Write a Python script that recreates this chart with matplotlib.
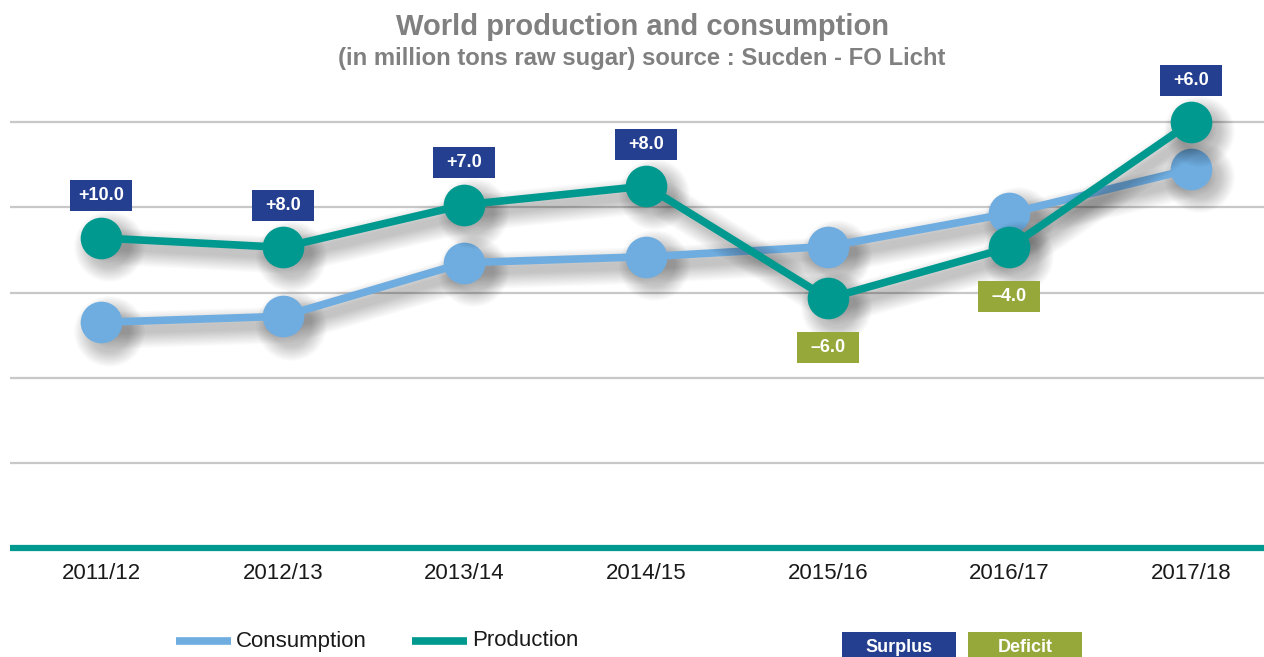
import numpy as np
import matplotlib
matplotlib.use("Agg")
import matplotlib.pyplot as plt
import matplotlib.transforms as mtransforms
from matplotlib.patches import Rectangle
from matplotlib.lines import Line2D

# ------------------------------------------------------------------ #
# Data (million tons raw sugar)                 #
# ------------------------------------------------------------------ #
seasons     = ["2011/12", "2012/13", "2013/14", "2014/15", "2015/16", "2016/17", "2017/18"]
production  = [176.4, 175.3, 180.3, 182.5, 169.3, 175.3, 190.0]
consumption = [166.5, 167.2, 173.5, 174.2, 175.4, 179.3, 184.5]
balance     = [10.0, 8.0, 7.0, 8.0, -6.0, -4.0, 6.0]
grid_levels = [150, 160, 170, 180, 190]

TEAL    = "#00998f"
LBLUE   = "#6fade0"
NAVY    = "#243f8f"
OLIVE   = "#97a83b"
GREY    = "#808080"
FONT    = "Liberation Sans"

W, H = 1264, 657
fig = plt.figure(figsize=(W / 100, H / 100), dpi=100)
ax = fig.add_axes([10 / W, (H - 548) / H, 1 - 10 / W, (548 - 37) / H])

x = np.arange(len(seasons))
ax.set_xlim(-0.501, 6.401)
ax.set_ylim(140, 200)

for g in grid_levels:
    ax.axhline(g, color="#c8c8c8", lw=1.6, zorder=0)
ax.axhline(140, color=TEAL, lw=4.5, zorder=1, clip_on=False, solid_capstyle="butt")


def draw_series(vals, color, z):
    # soft drop shadow: several faint, growing layers shifted right/down
    off = mtransforms.offset_copy(ax.transData, fig=fig, x=6, y=-6, units="points")
    for k in range(12):
        ax.plot(x, vals, color="black", alpha=0.02, lw=5.5 + k * 1.9,
                solid_capstyle="round", transform=off, zorder=z)
        ax.plot(x, vals, "o", color="black", alpha=0.02, ms=30 + k * 1.9,
                mew=0, transform=off, zorder=z)
    ax.plot(x, vals, color=color, lw=5.5, zorder=z + 1)
    ax.plot(x, vals, "o", color=color, ms=30, mew=0, zorder=z + 2)


draw_series(consumption, LBLUE, 2)
draw_series(production, TEAL, 5)

# surplus / deficit boxes
for xi, p, b in zip(x, production, balance):
    tr = fig.dpi_scale_trans + mtransforms.ScaledTranslation(xi, p, ax.transData)
    dy = 0.42 if b > 0 else -0.49
    col = NAVY if b > 0 else OLIVE
    ax.add_patch(Rectangle((-0.31, dy - 0.155), 0.62, 0.31, transform=tr,
                           facecolor=col, edgecolor="none", zorder=10, clip_on=False))
    txt = f"+{b:.1f}" if b > 0 else f"\u2013{abs(b):.1f}"
    ax.text(0, dy, txt, transform=tr, ha="center", va="center", color="white",
            fontsize=13, fontweight="bold", family=FONT, zorder=11)

ax.set_xticks(x)
ax.set_xticklabels(seasons, fontsize=16, family=FONT, color="#1a1a1a")
ax.tick_params(axis="x", length=0, pad=11)
ax.set_yticks([])
for s in ax.spines.values():
    s.set_visible(False)

# titles
fig.text(0.508, 1 - 27 / H, "World production and consumption", ha="center", va="center",
         fontsize=21, fontweight="bold", color=GREY, family=FONT)
fig.text(0.508, 1 - 59 / H, "(in million tons raw sugar) source : Sucden - FO Licht",
         ha="center", va="center", fontsize=17.2, fontweight="bold", color=GREY, family=FONT)

# legend
ly = (H - 641) / H
for x0, x1, col, lab in [(176, 231, LBLUE, "Consumption"), (412, 467, TEAL, "Production")]:
    fig.add_artist(Line2D([x0 / W, x1 / W], [ly, ly], color=col, lw=5.5,
                          solid_capstyle="butt", transform=fig.transFigure))
    fig.text((x1 + 5) / W, ly, lab, ha="left", va="center", fontsize=16,
             family=FONT, color="#1a1a1a")

for x0, col, lab in [(842, NAVY, "Surplus"), (968, OLIVE, "Deficit")]:
    fig.add_artist(Rectangle((x0 / W, 0), 114 / W, 25 / H, facecolor=col,
                             edgecolor="none", transform=fig.transFigure))
    fig.text((x0 + 57) / W, 10 / H, lab, ha="center", va="center", fontsize=13,
             fontweight="bold", color="white", family=FONT)

fig.savefig("out.png", dpi=100)
